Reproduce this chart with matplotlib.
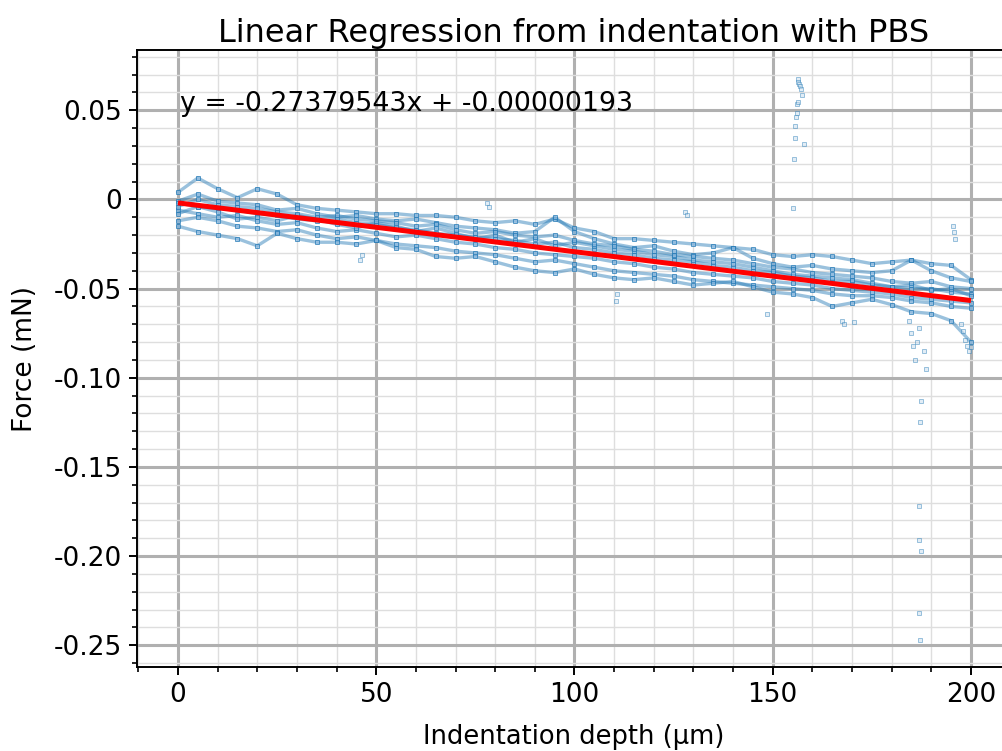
import matplotlib
matplotlib.use("Agg")
import matplotlib.pyplot as plt
from matplotlib.ticker import MultipleLocator, FixedLocator

# ---------------- data ----------------
depth_um = [0, 5, 10, 15, 20, 25, 30, 35, 40, 45, 50, 55, 60, 65, 70, 75, 80, 85, 90, 95,
            100, 105, 110, 115, 120, 125, 130, 135, 140, 145, 150, 155, 160, 165, 170, 175,
            180, 185, 190, 195, 200]

trace_a = [0.004, 0.012, 0.006, 0.001, 0.006, 0.003, -0.003, -0.005, -0.006, -0.007,
           -0.008, -0.008, -0.009, -0.009, -0.010, -0.012, -0.013, -0.012, -0.014, -0.011,
           -0.016, -0.018, -0.022, -0.022, -0.023, -0.024, -0.025, -0.026, -0.027, -0.028,
           -0.031, -0.032, -0.031, -0.032, -0.034, -0.036, -0.035, -0.034, -0.036, -0.037,
           -0.045]
trace_b = [-0.001, 0.003, -0.001, -0.002, -0.003, -0.006, -0.005, -0.008, -0.010, -0.009,
           -0.011, -0.012, -0.011, -0.013, -0.015, -0.016, -0.017, -0.019, -0.018, -0.010,
           -0.018, -0.022, -0.025, -0.027, -0.026, -0.029, -0.031, -0.030, -0.027, -0.033,
           -0.036, -0.038, -0.037, -0.039, -0.040, -0.041, -0.040, -0.034, -0.040, -0.044,
           -0.046]
trace_c = [-0.002, -0.004, -0.005, -0.006, -0.008, -0.009, -0.011, -0.012, -0.011, -0.013,
           -0.014, -0.016, -0.017, -0.019, -0.020, -0.021, -0.022, -0.023, -0.025, -0.024,
           -0.027, -0.028, -0.030, -0.031, -0.033, -0.034, -0.035, -0.037, -0.038, -0.040,
           -0.041, -0.043, -0.044, -0.046, -0.046, -0.048, -0.049, -0.050, -0.050, -0.052,
           -0.053]
trace_d = [-0.006, -0.008, -0.010, -0.009, -0.012, -0.014, -0.013, -0.016, -0.018, -0.017,
           -0.019, -0.021, -0.020, -0.022, -0.024, -0.025, -0.027, -0.028, -0.030, -0.031,
           -0.032, -0.033, -0.035, -0.036, -0.038, -0.039, -0.041, -0.042, -0.043, -0.044,
           -0.046, -0.047, -0.048, -0.050, -0.051, -0.052, -0.053, -0.055, -0.056, -0.057,
           -0.058]
trace_e = [-0.012, -0.010, -0.012, -0.015, -0.016, -0.018, -0.017, -0.020, -0.022, -0.021,
           -0.023, -0.025, -0.026, -0.027, -0.029, -0.030, -0.031, -0.033, -0.035, -0.034,
           -0.036, -0.038, -0.040, -0.041, -0.042, -0.043, -0.045, -0.046, -0.047, -0.048,
           -0.049, -0.050, -0.051, -0.053, -0.054, -0.054, -0.055, -0.057, -0.058, -0.060,
           -0.061]
trace_f = [-0.015, -0.018, -0.020, -0.022, -0.026, -0.019, -0.022, -0.024, -0.024, -0.025,
           -0.023, -0.027, -0.028, -0.032, -0.033, -0.032, -0.035, -0.038, -0.040, -0.041,
           -0.039, -0.042, -0.044, -0.045, -0.044, -0.046, -0.048, -0.047, -0.046, -0.049,
           -0.052, -0.053, -0.055, -0.060, -0.058, -0.056, -0.059, -0.063, -0.064, -0.068,
           -0.080]
trace_g = [-0.008, -0.004, -0.007, -0.011, -0.010, -0.012, -0.009, -0.011, -0.014, -0.016,
           -0.013, -0.015, -0.018, -0.016, -0.019, -0.022, -0.020, -0.024, -0.022, -0.026,
           -0.024, -0.026, -0.028, -0.029, -0.031, -0.032, -0.034, -0.035, -0.036, -0.038,
           -0.040, -0.042, -0.043, -0.044, -0.045, -0.047, -0.049, -0.048, -0.051, -0.050,
           -0.054]
trace_h = [-0.004, 0.000, -0.003, -0.004, -0.005, -0.007, -0.008, -0.010, -0.009, -0.011,
           -0.012, -0.013, -0.015, -0.014, -0.017, -0.019, -0.018, -0.020, -0.021, -0.020,
           -0.023, -0.025, -0.026, -0.028, -0.029, -0.031, -0.032, -0.033, -0.034, -0.036,
           -0.038, -0.039, -0.041, -0.042, -0.043, -0.044, -0.046, -0.047, -0.046, -0.049,
           -0.050]
traces = [trace_a, trace_b, trace_c, trace_d, trace_e, trace_f, trace_g, trace_h]

# isolated / spiking points
spike_up_x = [155.1, 155.3, 155.6, 156.0, 156.2, 156.4, 156.5, 156.7, 156.9, 157.2,
              157.5, 157.9, 156.4, 155.8, 155.5]
spike_up_y = [-0.0049, 0.0226, 0.0344, 0.0485, 0.0536, 0.0678, 0.066, 0.0647, 0.0636,
              0.062, 0.0586, 0.0311, 0.0547, 0.0462, 0.0412]
spike_down_x = [184.5, 185.0, 185.3, 186.0, 186.5, 187.0, 187.4, 187.2, 187.0, 186.9,
                187.3, 186.8, 187.1, 188.6, 188.2]
spike_down_y = [-0.068, -0.075, -0.082, -0.090, -0.080, -0.072, -0.113, -0.125, -0.172,
                -0.191, -0.197, -0.232, -0.247, -0.095, -0.085]
stray_x = [197.5, 198.0, 198.5, 199.0, 199.5, 200.0, 78.0, 78.5, 128.0, 128.3, 110.5,
           110.8, 46.0, 46.5, 195.5, 195.8, 196.0, 167.5, 168.0, 148.5, 170.5]
stray_y = [-0.070, -0.074, -0.079, -0.082, -0.085, -0.083, -0.002, -0.004, -0.007, -0.009,
           -0.057, -0.053, -0.034, -0.031, -0.015, -0.018, -0.022, -0.068, -0.070, -0.064,
           -0.069]

# regression (force in N, depth in m) -> plotted in mN vs µm
slope = -0.27379543
intercept = -0.00000193
fit_x = [0, 200]

x_ticks = [0, 50, 100, 150, 200]
y_ticks = [-0.25, -0.20, -0.15, -0.10, -0.05, 0, 0.05]
y_tick_labels = ["-0.25", "-0.20", "-0.15", "-0.10", "-0.05", "0", "0.05"]

title = "Linear Regression from indentation with PBS"
xlabel = "Indentation depth (µm)"
ylabel = "Force (mN)"
equation = "y = -0.27379543x + -0.00000193"

# ---------------- plotting ----------------
plt.rcParams['font.family'] = ['DejaVu Sans']
W, H = 1003, 751
fig = plt.figure(figsize=(W / 100, H / 100), dpi=100)
ax = fig.add_axes([137 / W, (H - 667) / H, (1010.6 - 137) / W, (667 - 50) / H])

blue = "#1f77b4"
for tr in traces:
    ax.plot(depth_um, tr, '-', color=blue, lw=2.4, alpha=0.45, zorder=2)
    ax.plot(depth_um, tr, 's', color=blue, ms=2.6, mew=0.7, mfc="#8fbbe0",
            alpha=0.7, zorder=2)
for xs, ys in [(spike_up_x, spike_up_y), (spike_down_x, spike_down_y), (stray_x, stray_y)]:
    ax.plot(xs, ys, 's', color=blue, ms=2.4, mew=0.6, mfc="#c6dcee", alpha=0.5,
            linestyle='none', zorder=2)

fit_y = [(slope * (xv * 1e-6) + intercept) * 1e3 for xv in fit_x]
ax.plot(fit_x, fit_y, color="red", lw=3.6, zorder=3, solid_capstyle='butt')

ax.set_xlim(-10.34, 210.0)
ax.set_ylim(-0.2622, 0.0838)

ax.xaxis.set_major_locator(FixedLocator(x_ticks))
ax.xaxis.set_minor_locator(MultipleLocator(10))
ax.yaxis.set_major_locator(FixedLocator(y_ticks))
ax.set_yticklabels(y_tick_labels)
ax.yaxis.set_minor_locator(MultipleLocator(0.01))

ax.grid(which='major', color='#b0b0b0', lw=2.2, zorder=0)
ax.grid(which='minor', color='#dedede', lw=1.0, zorder=0)
ax.set_axisbelow(True)

ax.tick_params(which='major', length=6, width=1.4, labelsize=19, pad=5)
ax.tick_params(which='minor', length=3.4, width=1.2)
for s in ax.spines.values():
    s.set_linewidth(1.4)

ax.set_title(title, fontsize=23, pad=6)
ax.set_xlabel(xlabel, fontsize=18.5, labelpad=11)
ax.set_ylabel(ylabel, fontsize=19, labelpad=11)

ax.text(0.5, 0.0535, equation, fontsize=19.3, ha='left', va='center', zorder=4)

fig.savefig("out.png", dpi=100)
